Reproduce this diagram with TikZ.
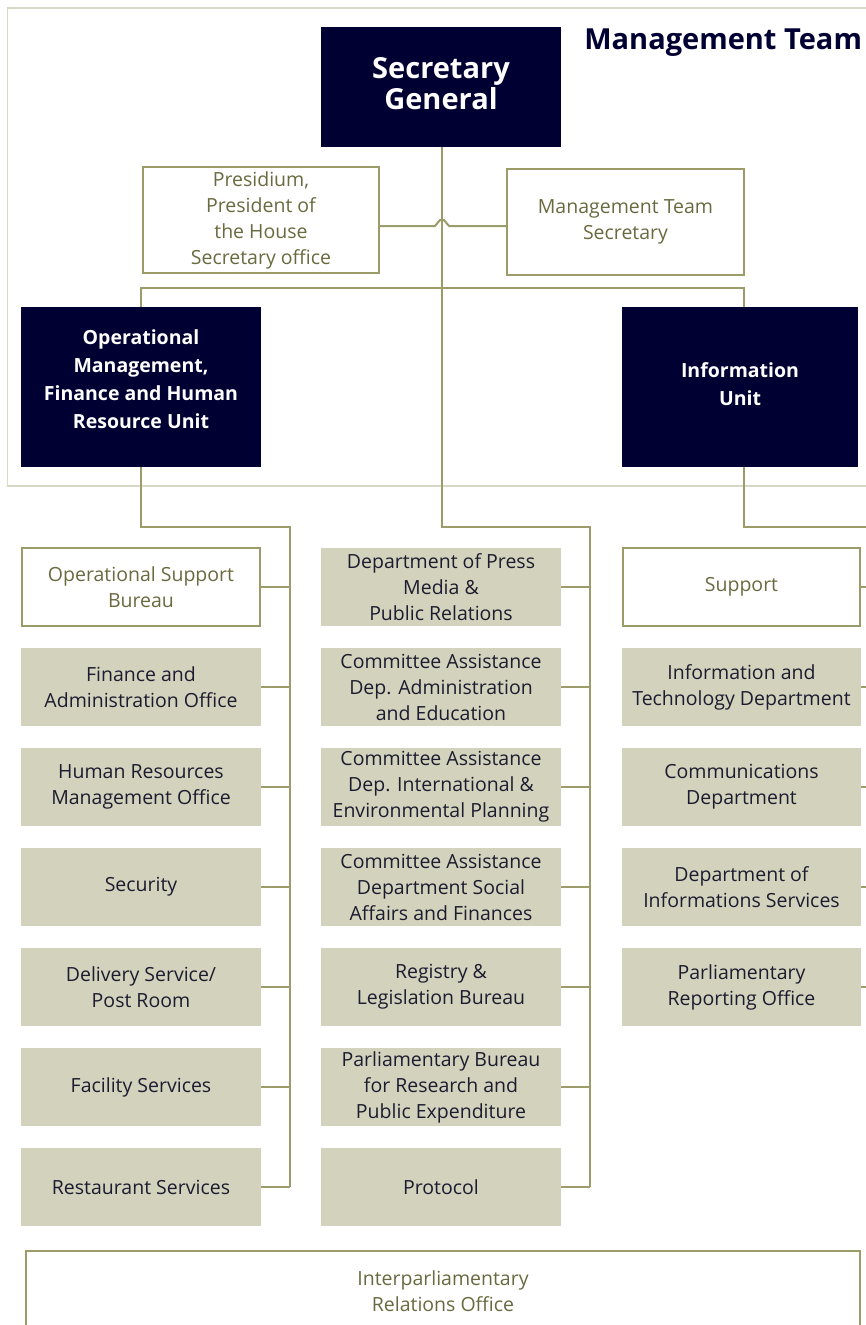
\documentclass[tikz,border=0pt]{standalone}
\usepackage{fontspec}
\setmainfont{Open Sans}
\usepackage{xcolor}
\usepackage{tikz}
\usetikzlibrary{positioning,calc}
\definecolor{orgNavy}{HTML}{000033}
\definecolor{orgOlive}{HTML}{9C9C6A}
\definecolor{orgSand}{HTML}{D3D3BD}
\definecolor{orgFrame}{HTML}{D8D8C6}
\definecolor{orgInk}{HTML}{1C1C30}
\definecolor{orgMoss}{HTML}{6A6A40}

\begin{document}
\begin{tikzpicture}[x=1pt, y=-1pt,
  font=\fontsize{19.5}{26}\selectfont, node distance=22pt, outer sep=0pt,
  head/.style={fill=orgNavy, text=white, font=\fontsize{19.5}{28}\selectfont\bfseries, align=center, inner sep=2pt},
  unit/.style={draw=orgOlive, line width=2pt, fill=white, text=orgMoss, align=center, inner sep=2pt, minimum width=238pt, minimum height=78pt},
  dept/.style={fill=orgSand, text=orgInk, align=center, inner sep=2pt, minimum width=240pt, minimum height=78pt},
  lnk/.style={draw=orgOlive, line width=2pt}]
\useasboundingbox (0,0) rectangle (866,1325);
\clip (0,0) rectangle (866,1325);
\node[draw=orgFrame, line width=1.5pt, minimum width=880pt, minimum height=478pt, anchor=north west] (team) at (7.5,8) {};
\node[anchor=west, text=orgNavy, font=\fontsize{29}{31}\selectfont\bfseries] (title) at (581,43) {Management Team};
\node[head, minimum width=240pt, minimum height=120pt, text depth=8pt, font=\fontsize{29}{31}\selectfont\bfseries] (sg) at (441,87) {Secretary\\General};
\node[unit, minimum width=236pt, minimum height=106pt] (pres) at (261,220) {Presidium,\\President of\\the House\\Secretary office};
\node[unit, minimum width=237pt, minimum height=106pt] (mts) at (625.5,222) {Management Team\\Secretary};
\node[head, minimum width=240pt, minimum height=160pt, text depth=16pt] (opm) at (141,387) {Operational\\Management,\\Finance and Human\\Resource Unit};
\node[head, minimum width=236pt, minimum height=160pt, text depth=5pt] (info) at (740,387) {Information\\Unit};
\coordinate (hop) at (442,226);
\coordinate (busL) at (290,527);
\coordinate (busM) at (590,527);
\coordinate (busR) at (874,527);
% left column
\node[unit] (osb) at (141,587) {Operational Support\\Bureau};
\node[dept, below=of osb] (fao) {Finance and\\Administration Office};
\node[dept, below=of fao] (hrm) {Human Resources\\Management Office};
\node[dept, below=of hrm] (secu) {Security};
\node[dept, below=of secu] (post) {Delivery Service/\\Post Room};
\node[dept, below=of post] (fac) {Facility Services};
\node[dept, below=of fac] (rest) {Restaurant Services};
% middle column
\node[dept] (press) at (441,587) {Department of Press\\Media \&\\Public Relations};
\node[dept, below=of press] (cadm) {Committee Assistance\\Dep. Administration\\and Education};
\node[dept, below=of cadm] (cint) {Committee Assistance\\Dep. International \&\\Environmental Planning};
\node[dept, below=of cint] (csoc) {Committee Assistance\\Department Social\\Affairs and Finances};
\node[dept, below=of csoc] (reg) {Registry \&\\Legislation Bureau};
\node[dept, below=of reg] (pbr) {Parliamentary Bureau\\for Research and\\Public Expenditure};
\node[dept, below=of pbr] (prot) {Protocol};
% right column
\node[unit, minimum width=237pt] (supp) at (741.5,587) {Support};
\node[dept, minimum width=239pt, below=of supp] (itd) {Information and\\Technology Department};
\node[dept, minimum width=239pt, below=of itd] (comm) {Communications\\Department};
\node[dept, minimum width=239pt, below=of comm] (dis) {Department of\\Informations Services};
\node[dept, minimum width=239pt, below=of dis] (rep) {Parliamentary\\Reporting Office};
\node[unit, minimum width=834pt, minimum height=80pt, anchor=north] (ipr) at (443,1251) {Interparliamentary\\Relations Office};
\draw[lnk] (pres.east |- hop) -- ($(hop)+(-7,0)$) -- ($(hop)+(-2,-6)$) -- ($(hop)+(2,-6)$) -- ($(hop)+(7,0)$) -- (mts.west |- hop);
\draw[lnk] (opm.north) -- ++(0,-19) -| ([xshift=4pt]info.north);
\draw[lnk] ([xshift=1pt]sg.south) |- (busM) -- (busM |- prot.east);
\draw[lnk] (opm.south) |- (busL) -- (busL |- rest.east);
\draw[lnk] ([xshift=4pt]info.south) |- (busR) -- (busR |- rep.east);
\foreach \n in {osb,fao,hrm,secu,post,fac,rest} \draw[lnk] (\n.east) -- (\n.east -| busL);
\foreach \n in {press,cadm,cint,csoc,reg,pbr,prot} \draw[lnk] (\n.east) -- (\n.east -| busM);
\foreach \n in {supp,itd,comm,dis,rep} \draw[lnk] (\n.east) -- (\n.east -| busR);
\end{tikzpicture}
\end{document}
